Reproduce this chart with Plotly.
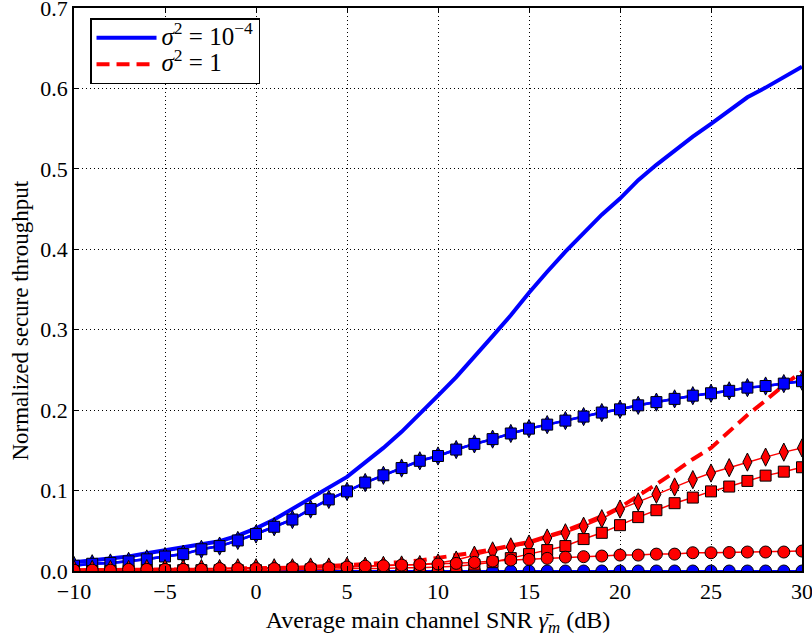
import plotly.graph_objects as go

# Average main channel SNR (dB)
snr_db = list(range(-10, 31))

# sigma^2 = 1e-4 : analytical throughput (thick solid line)
blue_main = [0.011, 0.013, 0.015, 0.018, 0.022, 0.026, 0.029, 0.033, 0.037, 0.044,
             0.053, 0.064, 0.077, 0.090, 0.103, 0.117, 0.135, 0.153, 0.173, 0.195,
             0.218, 0.241, 0.266, 0.292, 0.318, 0.346, 0.372, 0.397, 0.420, 0.443,
             0.463, 0.486, 0.505, 0.523, 0.540, 0.556, 0.572, 0.589, 0.601, 0.614,
             0.627]
# sigma^2 = 1e-4 : marker curves
blue_diamond = [0.0068, 0.009, 0.010, 0.012, 0.015, 0.018, 0.021, 0.027, 0.031, 0.038,
                0.046, 0.055, 0.064, 0.077, 0.089, 0.099, 0.110, 0.119, 0.128, 0.137,
                0.143, 0.151, 0.158, 0.164, 0.171, 0.177, 0.182, 0.187, 0.192, 0.197,
                0.201, 0.206, 0.210, 0.214, 0.218, 0.221, 0.224, 0.228, 0.230, 0.233,
                0.236]
blue_square = [0.0066, 0.009, 0.010, 0.012, 0.0145, 0.018, 0.021, 0.027, 0.031, 0.038,
               0.046, 0.055, 0.064, 0.077, 0.089, 0.099, 0.110, 0.119, 0.128, 0.137,
               0.143, 0.151, 0.158, 0.164, 0.171, 0.177, 0.182, 0.187, 0.192, 0.197,
               0.201, 0.206, 0.210, 0.214, 0.218, 0.221, 0.224, 0.228, 0.230, 0.233,
               0.236]
blue_circle = [0.0, 0.0, 0.0, 0.0, 0.0, 0.0, 0.0, 0.0, 0.0, 0.0,
               0.0, 0.0, 0.0, 0.0, 0.0, 0.0, 0.0, 0.0, 0.0, 0.0,
               0.0, 0.0, 0.0, 0.0, 0.0, 0.0, 0.0, 0.0, 0.0, 0.0,
               0.0, 0.0, 0.0, 0.0, 0.0, 0.0, 0.0, 0.0, 0.0, 0.0,
               0.0]

# sigma^2 = 1 : analytical throughput (thick dashed line)
red_main = [0.001, 0.001, 0.001, 0.001, 0.002, 0.002, 0.002, 0.002, 0.003, 0.003,
            0.003, 0.004, 0.004, 0.005, 0.006, 0.007, 0.008, 0.009, 0.011, 0.013,
            0.016, 0.019, 0.023, 0.027, 0.031, 0.036, 0.043, 0.050, 0.059, 0.068,
            0.079, 0.093, 0.108, 0.123, 0.139, 0.153, 0.173, 0.194, 0.212, 0.231,
            0.248]
# sigma^2 = 1 : marker curves
red_diamond = [0.002, 0.002, 0.002, 0.002, 0.003, 0.003, 0.003, 0.003, 0.003, 0.004,
               0.004, 0.004, 0.004, 0.005, 0.005, 0.006, 0.006, 0.007, 0.0075, 0.008,
               0.010, 0.0136, 0.0197, 0.025, 0.030, 0.0335, 0.041, 0.0475, 0.0557, 0.065,
               0.077, 0.086, 0.0954, 0.1045, 0.1136, 0.1218, 0.1285, 0.1354, 0.1416, 0.1478,
               0.153]
red_square = [0.000, 0.000, 0.000, 0.000, 0.001, 0.001, 0.001, 0.001, 0.001, 0.001,
              0.001, 0.001, 0.002, 0.002, 0.002, 0.003, 0.003, 0.003, 0.004, 0.004,
              0.005, 0.006, 0.008, 0.011, 0.016, 0.021, 0.026, 0.031, 0.0397, 0.0475,
              0.057, 0.067, 0.0756, 0.0843, 0.0913, 0.099, 0.105, 0.112, 0.1186, 0.1235,
              0.129]
red_circle = [0.001, 0.001, 0.001, 0.002, 0.002, 0.002, 0.002, 0.002, 0.003, 0.003,
              0.003, 0.003, 0.004, 0.004, 0.004, 0.005, 0.006, 0.0065, 0.0074, 0.008,
              0.0087, 0.0095, 0.0107, 0.0124, 0.0136, 0.0145, 0.0157, 0.0172, 0.0178, 0.0186,
              0.0198, 0.0198, 0.021, 0.021, 0.0227, 0.0227, 0.023, 0.0236, 0.0236, 0.0236,
              0.0248]

x_ticks = [-10, -5, 0, 5, 10, 15, 20, 25, 30]
y_ticks = [0.0, 0.1, 0.2, 0.3, 0.4, 0.5, 0.6, 0.7]
y_tick_text = ["0.0", "0.1", "0.2", "0.3", "0.4", "0.5", "0.6", "0.7"]

BLUE = "#0000ff"
RED = "#ff0000"
FONT = "Liberation Serif"

fig = go.Figure()

fig.add_trace(go.Scatter(
    x=snr_db, y=blue_main, mode="lines",
    line=dict(color=BLUE, width=4),
    name='<span style="font-size:25px"><i>σ</i><sup>2</sup> = 10<sup>−4</sup></span>',
))
fig.add_trace(go.Scatter(
    x=snr_db, y=red_main, mode="lines",
    line=dict(color=RED, width=4, dash="13px,7px"),
    name='<span style="font-size:25px"><i>σ</i><sup>2</sup> = 1</span>',
))


def marker_curve(y, color, symbol, size, lw):
    return go.Scatter(
        x=snr_db, y=y, mode="lines+markers", showlegend=False,
        line=dict(color=color, width=lw),
        marker=dict(symbol=symbol, size=size, color=color,
                    line=dict(color="black", width=1)),
        cliponaxis=True,
    )


fig.add_trace(marker_curve(blue_circle, BLUE, "circle", 12, 2))
fig.add_trace(marker_curve(blue_diamond, BLUE, "diamond-tall", 13, 2.5))
fig.add_trace(marker_curve(blue_square, BLUE, "square", 11, 2.5))
fig.add_trace(marker_curve(red_diamond, RED, "diamond-tall", 13, 1.5))
fig.add_trace(marker_curve(red_square, RED, "square", 11, 1.5))
fig.add_trace(marker_curve(red_circle, RED, "circle", 12, 1.5))

axis_common = dict(
    showline=True, linecolor="black", linewidth=1.5, mirror="ticks",
    ticks="inside", ticklen=5, tickwidth=1, tickcolor="black",
    showgrid=True, gridcolor="black", gridwidth=1, griddash="1px,3px",
    zeroline=False, ticklabeloverflow="allow",
    tickfont=dict(family=FONT, size=22, color="black"),
)

fig.update_xaxes(
    range=[-10, 30], tickvals=x_ticks,
    title=dict(text="Average main channel SNR <i>γ̄</i><sub><i>m</i></sub> (dB)",
               font=dict(family=FONT, size=24, color="black"), standoff=8),
    **axis_common,
)
fig.update_yaxes(
    range=[0, 0.7], tickvals=y_ticks, ticktext=y_tick_text,
    **axis_common,
)

# y-axis label placed as a rotated annotation
fig.add_annotation(
    text="Normalized secure throughput", textangle=-90,
    xref="paper", yref="paper", x=-0.074, y=0.445,
    xanchor="center", yanchor="middle", showarrow=False,
    font=dict(family=FONT, size=23, color="black"),
)

fig.update_layout(
    width=812, height=637,
    margin=dict(l=74, r=10, t=8, b=66, autoexpand=False),
    paper_bgcolor="white", plot_bgcolor="white",
    font=dict(family=FONT, size=22, color="black"),
    legend=dict(
        x=0.022, y=0.982, xanchor="left", yanchor="top",
        bgcolor="white", bordercolor="black", borderwidth=1.5,
        font=dict(family=FONT, size=18, color="black"),
        itemwidth=60, tracegroupgap=0,
    ),
)

fig.write_html("out.html")
